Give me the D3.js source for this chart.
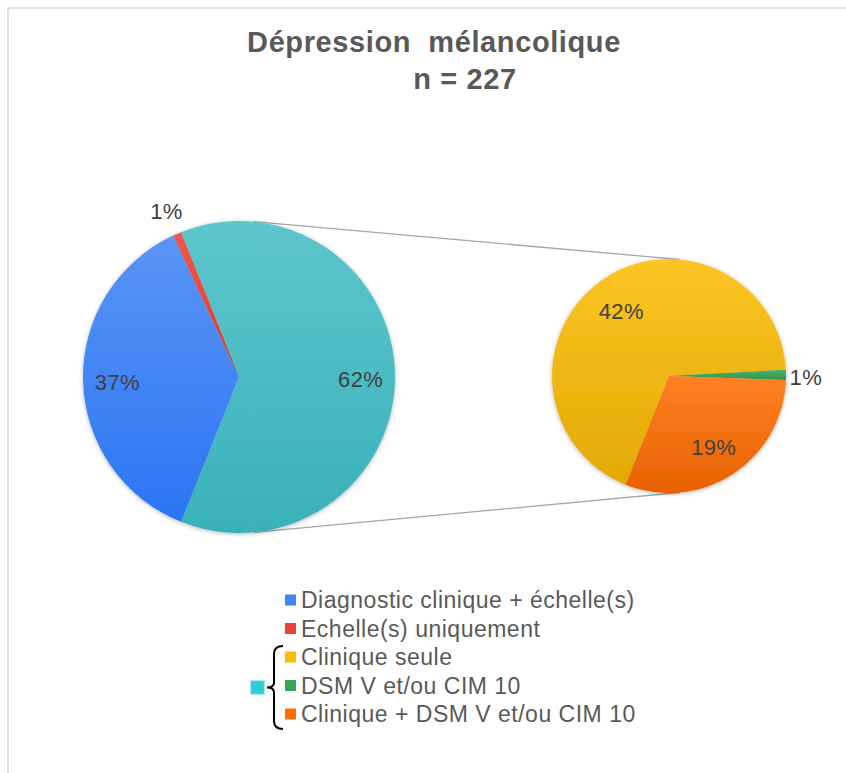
<!DOCTYPE html>
<html lang="fr">
<head>
<meta charset="UTF-8">
<title>Dépression mélancolique</title>
<script src="https://d3js.org/d3.v7.min.js"></script>
<style>
    body { margin: 0; background: #fff; font-family: "Liberation Sans", Arial, sans-serif; }
    .pct { font-size: 22px; fill: #404040; letter-spacing: 0.4px; }
    .legend-text { font-size: 23px; fill: #595959; letter-spacing: 0.5px; }
    .title { font-size: 29px; font-weight: bold; fill: #595959; letter-spacing: 0.6px; }
</style>
</head>
<body>
<div id="chart"></div>
<script>
    // Data (n = 227)
    const mainLabels = ["Diagnostic clinique + échelle(s)", "Echelle(s) uniquement"];
    const mainCounts = [84, 2];
    const mainColors = ["#4285f4", "#ea4335"];

    const subLabels = ["Clinique seule", "DSM V et/ou CIM 10", "Clinique + DSM V et/ou CIM 10"];
    const subCounts = [96, 2, 43];
    const subColors = ["#fbbc04", "#34a853", "#ff6d01"];

    const otherColor = "#46bdc6";
    const total = d3.sum(mainCounts) + d3.sum(subCounts);

    // Layout
    const width = 846, height = 773;
    const main = { cx: 239, cy: 377, r: 156 };
    const sec = { cx: 669, cy: 376, r: 117 };

    const svg = d3.select("#chart").append("svg")
        .attr("width", width)
        .attr("height", height);

    const defs = svg.append("defs");
    const shadow = defs.append("filter").attr("id", "shadow")
        .attr("x", "-20%").attr("y", "-20%").attr("width", "140%").attr("height", "140%");
    shadow.append("feDropShadow")
        .attr("dx", 0).attr("dy", 1)
        .attr("stdDeviation", 2)
        .attr("flood-color", "#000")
        .attr("flood-opacity", 0.3);

    function gradient(id, color) {
        const bottom = d3.hsl(color);
        bottom.l -= 0.05;
        const g = defs.append("linearGradient").attr("id", id)
            .attr("x1", 0).attr("y1", 0).attr("x2", 0).attr("y2", 1);
        g.append("stop").attr("offset", "0%").attr("stop-color", d3.interpolateRgb(color, "#fff")(0.13));
        g.append("stop").attr("offset", "100%").attr("stop-color", bottom.formatHex());
        return `url(#${id})`;
    }

    // chart border
    svg.append("rect")
        .attr("x", 8).attr("y", 8)
        .attr("width", width).attr("height", height)
        .attr("fill", "none")
        .attr("stroke", "#d9d9d9")
        .attr("stroke-width", 1.5);

    // Title
    svg.append("text").attr("class", "title")
        .attr("x", 434).attr("y", 52)
        .attr("text-anchor", "middle")
        .attr("xml:space", "preserve")
        .text("Dépression  mélancolique");
    svg.append("text").attr("class", "title")
        .attr("x", 465).attr("y", 89)
        .attr("text-anchor", "middle")
        .text(`n = ${total}`);

    const fmt = v => Math.round(v / total * 100) + "%";

    // Main pie: "other" slice centred on the right
    const otherValue = d3.sum(subCounts);
    const mainData = [
        { label: "other", value: otherValue, color: otherColor },
        ...mainLabels.map((l, i) => ({ label: l, value: mainCounts[i], color: mainColors[i] }))
    ];
    const otherAngle = otherValue / total * 2 * Math.PI;
    const mainStart = Math.PI / 2 - otherAngle / 2;

    const mainPie = d3.pie().sort(null).value(d => d.value)
        .startAngle(mainStart).endAngle(mainStart + 2 * Math.PI);
    const mainArcs = mainPie(mainData);

    // Secondary pie starts where the "other" slice ends
    const subData = subLabels.map((l, i) => ({ label: l, value: subCounts[i], color: subColors[i] }));
    const secStart = mainArcs[0].endAngle - 2 * Math.PI;
    const secPie = d3.pie().sort(null).value(d => d.value)
        .startAngle(secStart).endAngle(secStart + 2 * Math.PI);
    const secArcs = secPie(subData);

    // Connector lines (external tangents of the two circles)
    const dx = sec.cx - main.cx, dy = sec.cy - main.cy;
    const d = Math.hypot(dx, dy);
    const base = Math.atan2(dy, dx);
    const theta = Math.acos((main.r - sec.r) / d);
    [-1, 1].forEach(s => {
        const a = base + s * theta;
        svg.append("line")
            .attr("x1", main.cx + main.r * Math.cos(a))
            .attr("y1", main.cy + main.r * Math.sin(a))
            .attr("x2", sec.cx + sec.r * Math.cos(a))
            .attr("y2", sec.cy + sec.r * Math.sin(a))
            .attr("stroke", "#a6a6a6")
            .attr("stroke-width", 1.3);
    });

    function drawPie(arcs, c, labelR, prefix) {
        const g = svg.append("g")
            .attr("transform", `translate(${c.cx},${c.cy})`);
        const arc = d3.arc().innerRadius(0).outerRadius(c.r);
        const slices = g.append("g").attr("filter", "url(#shadow)");
        slices.selectAll("path")
            .data(arcs)
            .enter().append("path")
            .attr("d", arc)
            .attr("fill", (d, i) => gradient(`${prefix}${i}`, d.data.color));

        const inner = d3.arc().innerRadius(c.r * labelR).outerRadius(c.r * labelR);
        const outer = d3.arc().innerRadius(c.r * 1.17).outerRadius(c.r * 1.17);
        g.selectAll("text")
            .data(arcs)
            .enter().append("text")
            .attr("class", "pct")
            .attr("text-anchor", "middle")
            .attr("dy", "0.45em")
            .attr("transform", d => {
                const small = d.endAngle - d.startAngle < 0.2;
                return `translate(${(small ? outer : inner).centroid(d)})`;
            })
            .text(d => fmt(d.data.value));
    }

    drawPie(mainArcs, main, 0.78, "gm");
    drawPie(secArcs, sec, 0.70, "gs");

    // Legend
    const legendItems = [
        ...mainLabels.map((l, i) => ({ label: l, color: mainColors[i] })),
        ...subData
    ];
    const rowY = d3.scalePoint()
        .domain(legendItems.map(d => d.label))
        .range([600, 714]);

    const legend = svg.append("g");
    legend.selectAll("rect")
        .data(legendItems)
        .enter().append("rect")
        .attr("x", 285)
        .attr("y", d => rowY(d.label) - 5.5)
        .attr("width", 11).attr("height", 11)
        .attr("fill", d => d.color);
    legend.selectAll("text")
        .data(legendItems)
        .enter().append("text")
        .attr("class", "legend-text")
        .attr("x", 301)
        .attr("y", d => rowY(d.label))
        .attr("dy", "0.36em")
        .text(d => d.label);

    // Brace grouping the secondary pie items
    const yTop = rowY(subLabels[0]) - 11;
    const yBot = rowY(subLabels[subLabels.length - 1]) + 15;
    const yMid = (yTop + yBot) / 2;
    const bx = 274;
    svg.append("path")
        .attr("d", `M${bx + 9},${yTop} Q${bx},${yTop} ${bx},${yTop + 8}
                    L${bx},${yMid - 5} Q${bx},${yMid} ${bx - 7},${yMid}
                    Q${bx},${yMid} ${bx},${yMid + 5}
                    L${bx},${yBot - 8} Q${bx},${yBot} ${bx + 9},${yBot}`)
        .attr("fill", "none")
        .attr("stroke", "#000")
        .attr("stroke-width", 2);

    svg.append("rect")
        .attr("x", 251).attr("y", yMid - 6.5)
        .attr("width", 13).attr("height", 13)
        .attr("fill", "#2bcfd0")
        .attr("stroke", "#6cc6ee")
        .attr("stroke-width", 1);
</script>
</body>
</html>
